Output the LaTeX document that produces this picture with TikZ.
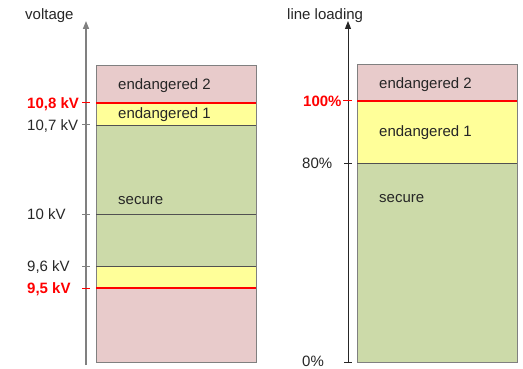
\documentclass[tikz,border=0pt]{standalone}
\usepackage{fontspec}
\setmainfont{Liberation Sans}
\usetikzlibrary{arrows.meta}
\definecolor{dpink}{HTML}{E8CBCB}
\definecolor{dyellow}{HTML}{FFFF99}
\definecolor{dgreen}{HTML}{CCDAA9}
\definecolor{dgrid}{HTML}{808080}
\definecolor{dtext}{HTML}{262626}
\begin{document}
\begin{tikzpicture}[x=1pt,y=-1pt,
  lbl/.style={font=\fontsize{15}{17}\selectfont, text=dtext, inner sep=0pt, text height=11pt, text depth=0pt},
  redlbl/.style={lbl, text=red, font=\fontsize{15}{17}\selectfont\bfseries},
  frame/.style={draw=dgrid, line width=1pt},
  sep/.style={draw=dtext!80, line width=0.8pt},
  redsep/.style={draw=red, line width=1.4pt},
  axisL/.style={draw=dgrid, line width=1.5pt, -{Triangle[length=8pt,width=6pt]}},
  axisR/.style={draw=dtext, line width=1pt, -{Triangle[length=8pt,width=6pt]}},
  tickL/.style={draw=dgrid, line width=1pt},
  tickR/.style={draw=dtext, line width=0.8pt}]
\useasboundingbox (0,0) rectangle (523,369);
% ---------- left chart ----------
\fill[dpink]   (96,66) rectangle (256,103);
\fill[dyellow] (96,103) rectangle (256,125);
\fill[dgreen]  (96,125) rectangle (256,266);
\fill[dyellow] (96,266) rectangle (256,288);
\fill[dpink]   (96,288) rectangle (256,362);
\draw[frame] (96,66) rectangle (256,362);
\draw[sep] (96,125) -- (256,125);
\draw[sep] (96,214) -- (256,214);
\draw[sep] (96,266) -- (256,266);
\draw[redsep] (96,103) -- (256,103);
\draw[redsep] (96,288) -- (256,288);
\coordinate (l0) at (86,365);
\coordinate (l1) at (86,21);
\draw[axisL] (l0) -- (l1);
\draw[redsep, line width=1pt] (82,103) -- (90,103);
\draw[tickL] (82,125) -- (90,125);
\draw[tickL] (82,214) -- (90,214);
\draw[tickL] (82,266) -- (90,266);
\draw[redsep, line width=1pt] (82,288) -- (90,288);
\node[lbl, anchor=west] (vt) at (25,14) {voltage};
\node[redlbl, anchor=west] (v108) at (27,103) {10,8 kV};
\node[lbl, anchor=west] (v107) at (27,125) {10,7 kV};
\node[lbl, anchor=west] (v10) at (27,214) {10 kV};
\node[lbl, anchor=west] (v96) at (27,266) {9,6 kV};
\node[redlbl, anchor=west] (v95) at (27,288) {9,5 kV};
\node[lbl, anchor=west] (le2) at (118,84) {endangered 2};
\node[lbl, anchor=west] (le1) at (118,113) {endangered 1};
\node[lbl, anchor=west] (ls) at (118,199) {secure};
% ---------- right chart ----------
\fill[dpink]   (357,65) rectangle (517,101);
\fill[dyellow] (357,101) rectangle (517,163);
\fill[dgreen]  (357,163) rectangle (517,362);
\draw[frame] (357,65) rectangle (517,362);
\draw[sep] (357,163) -- (517,163);
\draw[redsep] (357,101) -- (517,101);
\coordinate (r0) at (348,363);
\coordinate (r1) at (348,21);
\draw[axisR] (r0) -- (r1);
\draw[redsep, line width=1pt] (343,101) -- (352,101);
\draw[tickR] (344,163) -- (352,163);
\draw[tickR] (344,362) -- (352,362);
\node[lbl, anchor=west] (lt) at (287,14) {line loading};
\node[redlbl, anchor=west] (p100) at (303,101) {100\%};
\node[lbl, anchor=west] (p80) at (302,163) {80\%};
\node[lbl, anchor=west] (p0) at (302,360.5) {0\%};
\node[lbl, anchor=west] (re2) at (379,83) {endangered 2};
\node[lbl, anchor=west] (re1) at (379,131) {endangered 1};
\node[lbl, anchor=west] (rs) at (379,197) {secure};
\end{tikzpicture}
\end{document}
